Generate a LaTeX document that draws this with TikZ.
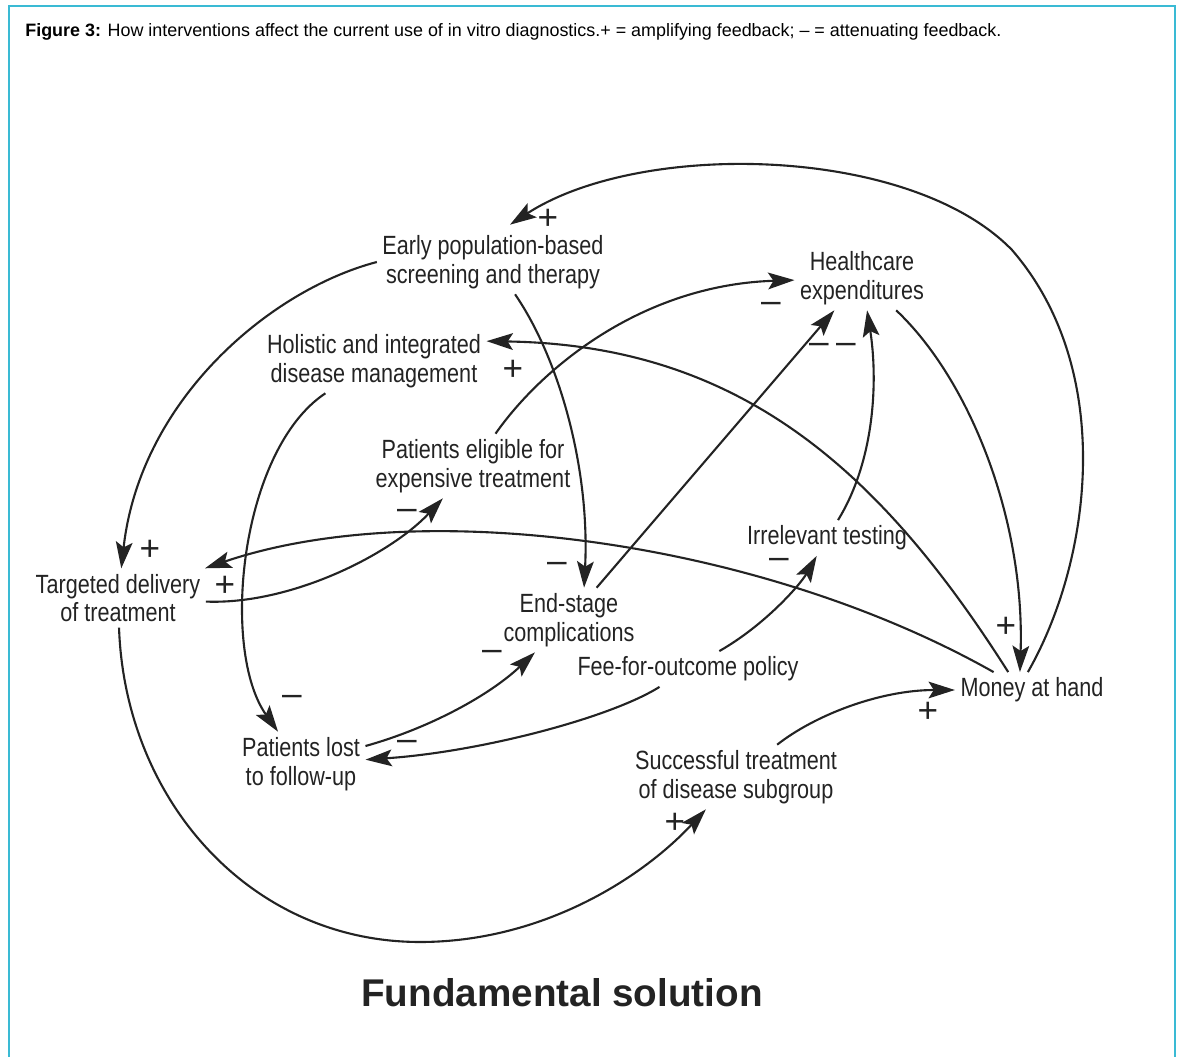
\documentclass[tikz,border=0pt]{standalone}
\usepackage{fontspec}
\usepackage{tikz}
\usepackage{xcolor}
\usetikzlibrary{arrows.meta}
\newfontfamily\nodefont[FakeStretch=0.82]{Liberation Sans}
\newfontfamily\capfont{Liberation Sans}
\definecolor{framecyan}{RGB}{58,186,212}
\definecolor{inkgray}{RGB}{35,35,35}

\begin{document}
\begin{tikzpicture}[x=0.02cm,y=-0.02cm,
	factor/.style={font=\nodefont\fontsize{15}{16.4}\selectfont,align=center,inner sep=3pt,text=inkgray},
	polarity/.style={font=\capfont\fontsize{20}{20}\selectfont,inner sep=0pt,text=inkgray},
	feedback/.style={draw=inkgray,line width=1.2pt,-{Stealth[length=15pt,width=9.5pt,inset=3pt]}}]
	\useasboundingbox (0,0) rectangle (1178,1057);
	% frame and caption
	\draw[framecyan,line width=0.9pt] (9,1057) -- (9,6) -- (1175,6) -- (1175,1057);
	\node[anchor=base west,inner sep=0pt,font=\capfont\fontsize{10.2}{12}\selectfont] (caption) at (25,37)
		{\textbf{Figure 3:} How interventions affect the current use of in vitro diagnostics.+ = amplifying feedback; – = attenuating feedback.};

	% factors
	\node[factor] (early) at (493,262) {Early population-based\\screening and therapy};
	\node[factor] (health) at (862,278) {Healthcare\\expenditures};
	\node[factor] (holistic) at (374,361) {Holistic and integrated\\disease management};
	\node[factor] (eligible) at (473,466) {Patients eligible for\\expensive treatment};
	\node[factor] (irrelevant) at (827,538) {Irrelevant testing};
	\node[factor] (targeted) at (118,598) {Targeted delivery\\of treatment};
	\node[factor] (endstage) at (569,620) {End-stage\\complications};
	\node[factor] (fee) at (688,669) {Fee-for-outcome policy};
	\node[factor] (money) at (1032,690) {Money at hand};
	\node[factor] (lost) at (301,764) {Patients lost\\to follow-up};
	\node[factor] (success) at (736,777) {Successful treatment\\of disease subgroup};
	\node[font=\capfont\bfseries\fontsize{22}{24}\selectfont,text=inkgray] (title) at (562,993) {Fundamental solution};

	% links
	\draw[feedback] (money.103) .. controls (1092,560) and (1116,370) .. (1012,250) .. controls (910,145) and (640,140) .. ([xshift=0.34cm,yshift=0.1cm]early.north);
	\draw[feedback] (early.west) .. controls (270,290) and (140,400) .. (targeted);
	\draw[feedback] (early) .. controls (560,360) and (590,470) .. (endstage.65);
	\draw[feedback] (eligible) .. controls (540,370) and (640,285) .. (health);
	\draw[feedback] (money.143) .. controls (880,470) and (740,345) .. (holistic.10);
	\draw[feedback] (holistic) .. controls (240,450) and (220,650) .. (lost);
	\draw[feedback] (targeted) .. controls (290,605) and (390,555) .. (eligible);
	\draw[feedback] (money.155) .. controls (760,540) and (420,495) .. (targeted);
	\draw[feedback] (endstage) -- (health);
	\draw[feedback] (irrelevant) .. controls (875,460) and (878,380) .. (health);
	\draw[feedback] (health) .. controls (970,380) and (1025,520) .. (money.124);
	\draw[feedback] (fee) .. controls (765,625) and (800,585) .. (irrelevant);
	\draw[feedback] (fee) .. controls (610,718) and (480,752) .. (lost);
	\draw[feedback] (lost) .. controls (430,728) and (490,695) .. (endstage);
	\draw[feedback] (success) .. controls (815,715) and (880,690) .. (money);
	\draw[feedback] (targeted) .. controls (125,800) and (250,942) .. (420,942) .. controls (540,942) and (640,880) .. (success);

	% polarities
	\node[polarity] (p1) at (548,219) {+};
	\node[polarity] (p2) at (150,550) {+};
	\node[polarity] (p3) at (557,567) {–};
	\node[polarity] (p4) at (771,307) {–};
	\node[polarity] (p5) at (513,370) {+};
	\node[polarity] (p6) at (292,700) {–};
	\node[polarity] (p7) at (407,514) {–};
	\node[polarity] (p8) at (225,586) {+};
	\node[polarity] (p9) at (819,348) {–};
	\node[polarity] (p10) at (846,348) {–};
	\node[polarity] (p11) at (1006,627) {+};
	\node[polarity] (p12) at (779,563) {–};
	\node[polarity] (p13) at (407,745) {–};
	\node[polarity] (p14) at (492,655) {–};
	\node[polarity] (p15) at (928,712) {+};
	\node[polarity] (p16) at (675,823) {+};
\end{tikzpicture}
\end{document}
